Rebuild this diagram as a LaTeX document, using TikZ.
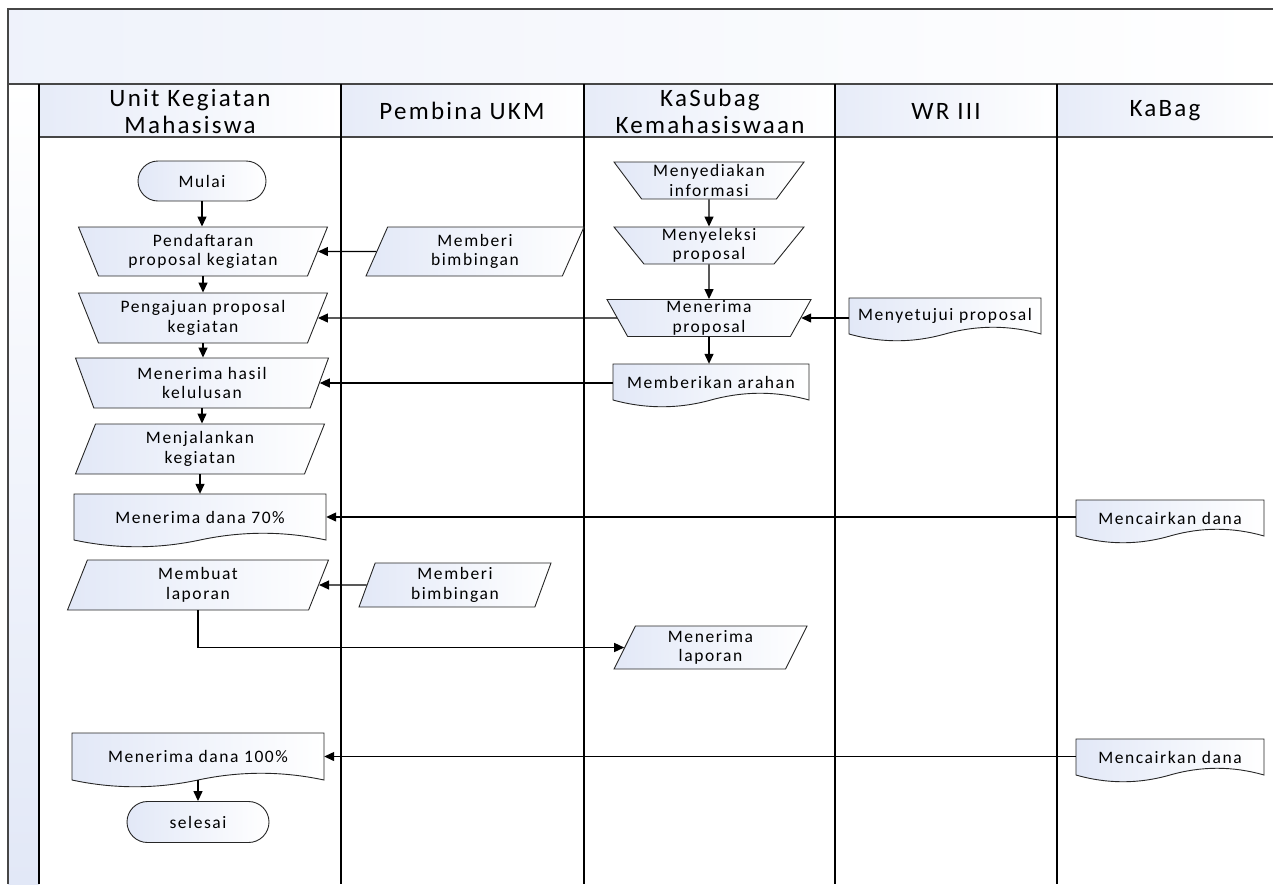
\documentclass[tikz,border=0pt]{standalone}
\usepackage{fontspec}
\setmainfont{Carlito}[LetterSpace=9]
\usetikzlibrary{shapes.geometric,shapes.misc,arrows.meta,calc}
\definecolor{fillc}{RGB}{226,232,247}
\definecolor{framec}{RGB}{70,70,70}
\newcommand\nodefont{\fontsize{17.5}{19.5}\selectfont}
\newcommand\hdrfont{\fontsize{25}{27}\selectfont}
\newcommand\docnode[6]{%
  \path[docfill] (#2,#3) -- (#4,#3) -- (#4,#5)
    .. controls ({#4-(#4-#2)/6},{#5-9}) and ({#4-(#4-#2)/3},{#5-9}) .. ({(#2+#4)/2},{#5})
    .. controls ({#2+(#4-#2)/3},{#5+9}) and ({#2+(#4-#2)/6},{#5+9}) .. (#2,#5) -- cycle;
  \node[txt, minimum width={#4-#2}, minimum height={#5-#3}] (#1) at ({(#2+#4)/2},{(#3+#5)/2}) {#6};
}
\begin{document}
\begin{tikzpicture}[x=1pt,y=-1pt,
  txt/.style={font=\nodefont, align=center, inner sep=0pt, text=black},
  shp/.style={txt, draw=black!85, line width=0.9pt, left color=fillc, right color=white},
  docfill/.style={draw=black!85, line width=0.9pt, left color=fillc, right color=white},
  term/.style={shp, rounded rectangle, minimum height=40},
  manop/.style={shp, trapezium, trapezium left angle=#1, trapezium right angle=#1, trapezium stretches body},
  para/.style={shp, trapezium, trapezium left angle=#1, trapezium right angle={180-#1}, trapezium stretches body},
  hdr/.style={font=\hdrfont, align=center, inner sep=0pt},
  lane/.style={black, line width=1.5pt},
  frame/.style={framec, line width=1.2pt},
  arr/.style={-{Triangle[length=10pt,width=9pt]}, line width=1.3pt, black}]
\useasboundingbox (0,0) rectangle (1273,884);
% pool title band and left strip
\fill[left color=fillc!55, right color=white] (8,9) rectangle (1273,84);
\fill[top color=white, bottom color=fillc] (8,84) rectangle (39,884);
% lane headers
\fill[left color=fillc!85, right color=white] (39,84) rectangle (341,137);
\fill[left color=fillc!85, right color=white] (341,84) rectangle (584,137);
\fill[left color=fillc!85, right color=white] (584,84) rectangle (835,137);
\fill[left color=fillc!85, right color=white] (835,84) rectangle (1057,137);
\fill[left color=fillc!85, right color=white] (1057,84) rectangle (1273,137);
\draw[frame] (1273,9) -- (8,9) -- (8,884);
\draw[frame] (8,84) -- (1273,84);
\draw[frame] (39,137) -- (1273,137);
\foreach \xx in {39,341,584,835,1057} \draw[lane] (\xx,84) -- (\xx,884);
\node[hdr] (h1) at (190,111) {Unit Kegiatan\\Mahasiswa};
\node[hdr] (h2) at (462,111) {Pembina UKM};
\node[hdr] (h3) at (710,111) {KaSubag\\Kemahasiswaan};
\node[hdr] (h4) at (946,111) {WR III};
\node[hdr] (h5) at (1165,111) {KaBag};

% Unit Kegiatan Mahasiswa lane
\node[term, minimum width=128] (mulai) at (202,181) {Mulai};
\node[manop=120, minimum width=249, minimum height=49] (pend) at (203,251.5) {Pendaftaran\\proposal kegiatan};
\node[manop=120, minimum width=249, minimum height=50] (peng) at (203,318) {Pengajuan proposal\\kegiatan};
\node[manop=120, minimum width=253, minimum height=50] (hasil) at (202,383) {Menerima hasil\\kelulusan};
\node[para=60, minimum width=249, minimum height=50] (menjal) at (200,449) {Menjalankan\\kegiatan};
\docnode{d70}{74}{494}{326}{540}{Menerima dana 70\%}
\node[para=60, minimum width=261, minimum height=50] (membuat) at (198,585) {Membuat\\laporan};
\docnode{d100}{72}{733}{324}{780}{Menerima dana 100\%}
\node[term, minimum width=142, minimum height=41] (selesai) at (198,822) {selesai};

% Pembina UKM lane
\node[para=58, minimum width=218, minimum height=49] (mb1) at (475,251.5) {Memberi\\bimbingan};
\node[para=65, minimum width=192, minimum height=44] (mb2) at (455,585) {Memberi\\bimbingan};

% KaSubag lane
\node[manop=131, minimum width=190, minimum height=37] (sedia) at (709,180.5) {Menyediakan\\informasi};
\node[manop=131, minimum width=190, minimum height=37] (seleksi) at (709,245.5) {Menyeleksi\\proposal};
\node[manop=121, minimum width=204, minimum height=37] (terima) at (709,318) {Menerima\\proposal};
\docnode{arahan}{613}{364}{809}{400}{Memberikan arahan}
\node[para=58, minimum width=193, minimum height=43] (menlap) at (710.5,647.5) {Menerima\\laporan};

% WR III lane
\docnode{setuju}{849}{298}{1041}{334}{Menyetujui proposal}

% KaBag lane
\docnode{menc1}{1076}{500}{1264}{536}{Mencairkan dana}
\docnode{menc2}{1076}{739}{1264}{775}{Mencairkan dana}

% connectors
\draw[arr] (mulai.south) -- (mulai.south |- pend.north);
\draw[arr] (pend.south) -- (pend.south |- peng.north);
\draw[arr] (peng.south) -- (peng.south |- hasil.north);
\draw[arr] (hasil.south) -- (hasil.south |- menjal.north);
\draw[arr] (menjal.south) -- (menjal.south |- d70.north);
\draw[arr] (mb1.west) -- (pend.east);
\draw[arr] (terima.west) -- (peng.east);
\draw[arr] (hasil.east -| arahan.west) -- (hasil.east);
\draw[arr] (terima.east -| setuju.west) -- (terima.east);
\draw[arr] (sedia.south) -- (seleksi.north);
\draw[arr] (seleksi.south) -- (terima.north);
\draw[arr] (terima.south) -- (terima.south |- arahan.north);
\draw[arr] (d70.east -| menc1.west) -- (d70.east);
\draw[arr] (mb2.west) -- (membuat.east);
\draw[arr] (membuat.south) |- (menlap.west);
\draw[arr] (d100.east -| menc2.west) -- (d100.east);
\draw[arr] (d100.south) -- (d100.south |- selesai.north);
\end{tikzpicture}
\end{document}
